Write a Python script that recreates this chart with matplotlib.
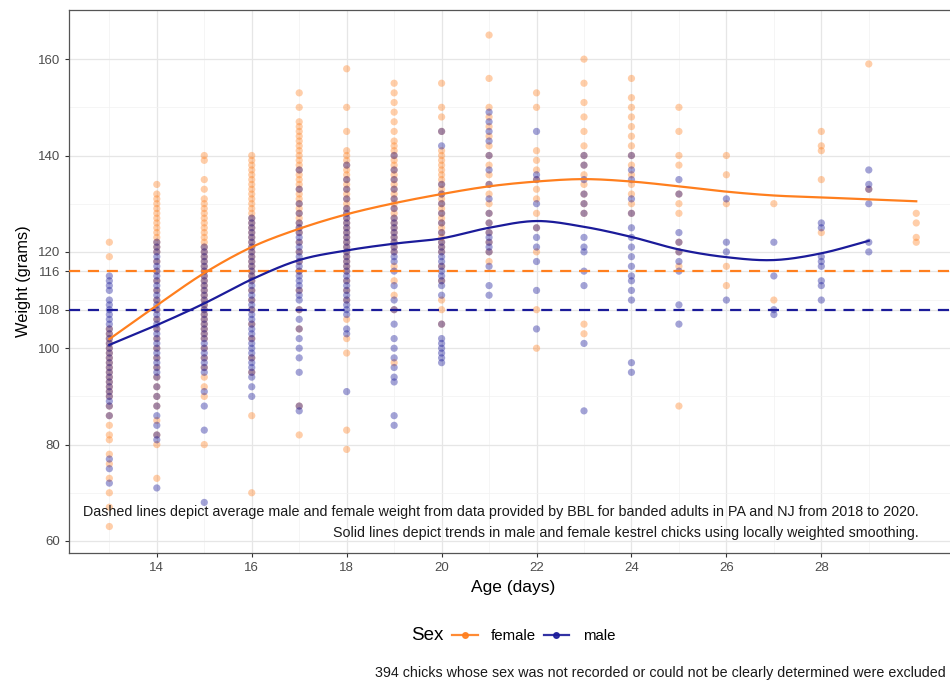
import numpy as np
import matplotlib
matplotlib.use("Agg")
import matplotlib.pyplot as plt
from matplotlib.lines import Line2D

plt.rcParams['font.family'] = ['Liberation Sans', 'DejaVu Sans']

# ---------------- data ----------------
days = list(range(13, 31))

female_weights = {
    13: [122, 119, 104, 103, 102, 101, 100, 99, 98, 97, 96, 95, 94, 93, 92, 91, 90, 88, 86, 84, 82, 81, 78, 76, 73, 70, 67, 63],
    14: [134, 132, 131, 130, 129, 128, 127, 126, 125, 124, 123, 122, 121, 120, 118, 116, 114, 112, 110, 108, 106, 104, 102, 100, 98, 96, 94, 92, 90, 88, 85, 82, 80, 73],
    15: [140, 139, 135, 133, 131, 130, 129, 128, 127, 126, 125, 124, 123, 122, 121, 120, 119, 118, 117, 116, 115, 114, 113, 112, 111, 110, 109, 108, 107, 106, 105, 104, 103, 102, 100, 98, 96, 94, 92, 90, 80],
    16: [140, 139, 138, 137, 136, 135, 134, 133, 132, 131, 130, 129, 128, 127, 126, 125, 124, 123, 122, 121, 120, 119, 118, 117, 116, 115, 114, 112, 110, 108, 105, 102, 98, 95, 86, 70],
    17: [153, 150, 147, 146, 145, 144, 143, 142, 141, 140, 139, 138, 137, 136, 135, 134, 133, 132, 131, 130, 129, 128, 127, 126, 125, 124, 122, 120, 118, 116, 112, 108, 104, 88, 82],
    18: [158, 150, 145, 141, 140, 139, 138, 137, 136, 135, 134, 133, 132, 131, 130, 129, 128, 127, 126, 125, 124, 123, 122, 121, 120, 119, 118, 117, 116, 114, 112, 110, 106, 102, 99, 83, 79],
    19: [155, 153, 151, 149, 147, 145, 143, 142, 141, 140, 139, 138, 137, 136, 135, 134, 133, 132, 131, 130, 129, 128, 127, 126, 125, 124, 123, 122, 121, 120, 117, 114, 111, 108, 97],
    20: [155, 150, 148, 145, 141, 140, 139, 138, 137, 136, 135, 134, 133, 132, 131, 130, 129, 128, 127, 126, 125, 124, 123, 122, 121, 120, 117, 114, 110, 108, 105],
    21: [165, 156, 150, 148, 146, 144, 142, 140, 138, 136, 134, 132, 130, 128, 126, 124, 122, 120, 118],
    22: [153, 150, 141, 139, 137, 135, 133, 131, 128, 125, 120, 108, 100],
    23: [160, 155, 151, 148, 145, 142, 140, 138, 136, 134, 132, 130, 128, 105, 103],
    24: [156, 152, 150, 148, 146, 144, 142, 140, 138, 136, 134, 132, 130, 128],
    25: [150, 145, 140, 138, 132, 130, 128, 122, 120, 117, 88],
    26: [140, 136, 130, 117, 113],
    27: [130, 110],
    28: [145, 142, 141, 135, 124],
    29: [159, 133],
    30: [128, 126, 123, 122],
}

male_weights = {
    13: [115, 114, 113, 112, 110, 109, 108, 107, 106, 105, 104, 103, 102, 101, 100, 99, 98, 97, 96, 95, 94, 93, 92, 91, 90, 89, 88, 86, 77, 75, 72],
    14: [122, 121, 120, 119, 118, 117, 116, 115, 114, 113, 112, 111, 110, 109, 108, 107, 106, 105, 104, 103, 102, 101, 100, 99, 98, 97, 96, 95, 94, 92, 90, 88, 86, 84, 82, 81, 71],
    15: [121, 120, 119, 118, 117, 116, 115, 114, 113, 112, 111, 110, 109, 108, 107, 106, 105, 104, 103, 102, 101, 100, 99, 98, 97, 96, 95, 91, 88, 83, 68],
    16: [127, 126, 125, 124, 123, 122, 121, 120, 119, 118, 117, 116, 115, 114, 113, 112, 111, 110, 109, 108, 107, 106, 105, 104, 103, 102, 101, 100, 99, 98, 97, 96, 95, 94, 92, 90],
    17: [137, 133, 130, 128, 126, 125, 124, 123, 122, 121, 120, 119, 118, 117, 116, 115, 114, 113, 112, 111, 110, 108, 106, 104, 102, 100, 98, 95, 88, 87],
    18: [138, 135, 133, 131, 129, 128, 127, 126, 125, 124, 123, 122, 121, 120, 119, 118, 117, 116, 115, 114, 113, 112, 111, 110, 109, 108, 107, 104, 103, 91],
    19: [140, 137, 135, 133, 131, 129, 127, 126, 125, 124, 123, 122, 121, 120, 119, 118, 116, 113, 110, 108, 105, 102, 100, 98, 96, 94, 93, 86, 84],
    20: [145, 142, 134, 132, 130, 128, 126, 124, 122, 121, 120, 119, 118, 117, 116, 115, 114, 113, 111, 105, 102, 101, 100, 99, 98, 97],
    21: [149, 147, 145, 143, 140, 137, 134, 131, 128, 126, 124, 123, 122, 121, 120, 117, 113, 111],
    22: [145, 136, 135, 130, 125, 123, 121, 118, 112, 104],
    23: [140, 138, 135, 132, 130, 128, 123, 121, 120, 116, 113, 101, 87],
    24: [140, 137, 135, 131, 128, 125, 123, 121, 119, 117, 115, 114, 112, 110, 97, 95],
    25: [135, 132, 124, 122, 120, 118, 116, 109, 105],
    26: [131, 122, 120, 110],
    27: [122, 115, 108, 107],
    28: [126, 125, 119, 118, 117, 114, 113, 110],
    29: [137, 134, 133, 130, 122, 120],
}

# loess trend values read at each day
female_trend_days = list(range(13, 31))
female_trend = [101.9, 108.9, 115.6, 121.0, 124.8, 127.8, 130.1, 132.0, 133.6, 134.6, 135.1, 134.6, 133.6, 132.5, 131.7, 131.3, 130.9, 130.5]
male_trend_days = list(range(13, 30))
male_trend = [100.7, 104.8, 109.3, 114.3, 118.3, 120.3, 121.7, 122.8, 125.0, 126.4, 125.2, 123.1, 120.5, 118.9, 118.3, 119.7, 122.3]

female_adult_mean = 116
male_adult_mean = 108

x_ticks = [14, 16, 18, 20, 22, 24, 26, 28]
y_ticks = [60, 80, 100, 108, 116, 120, 140, 160]

female_color = '#FF7F1E'
male_color = '#1B1B9A'

note1 = "Dashed lines depict average male and female weight from data provided by BBL for banded adults in PA and NJ from 2018 to 2020."
note2 = "Solid lines depict trends in male and female kestrel chicks using locally weighted smoothing."
caption = "394 chicks whose sex was not recorded or could not be clearly determined were excluded"


def catmull_rom(xs, ys, n=20):
    xs = np.asarray(xs, float); ys = np.asarray(ys, float)
    px = np.concatenate([[2*xs[0]-xs[1]], xs, [2*xs[-1]-xs[-2]]])
    py = np.concatenate([[2*ys[0]-ys[1]], ys, [2*ys[-1]-ys[-2]]])
    ox, oy = [], []
    for i in range(1, len(px)-2):
        t = np.linspace(0, 1, n, endpoint=False)
        for arr, out in ((px, ox), (py, oy)):
            p0, p1, p2, p3 = arr[i-1], arr[i], arr[i+1], arr[i+2]
            out.extend(0.5*((2*p1) + (-p0+p2)*t + (2*p0-5*p1+4*p2-p3)*t**2 + (-p0+3*p1-3*p2+p3)*t**3))
    ox.append(xs[-1]); oy.append(ys[-1])
    return np.array(ox), np.array(oy)


fig = plt.figure(figsize=(9.5, 6.83), dpi=100)
ax = fig.add_axes([69/950, 1-553/683, (956.6-69)/950, (553-10)/683])

# grid
for x in x_ticks:
    ax.axvline(x, color='#E6E6E6', lw=0.9, zorder=0)
for x in [13, 15, 17, 19, 21, 23, 25, 27, 29]:
    ax.axvline(x, color='#F2F2F2', lw=0.5, zorder=0)
for y in y_ticks:
    ax.axhline(y, color='#E6E6E6', lw=0.9, zorder=0)
for y in [70, 90, 110, 130, 150]:
    ax.axhline(y, color='#F2F2F2', lw=0.5, zorder=0)

# points
fx = [d for d in female_weights for _ in female_weights[d]]
fy = [w for d in female_weights for w in female_weights[d]]
mx = [d for d in male_weights for _ in male_weights[d]]
my = [w for d in male_weights for w in male_weights[d]]
ax.scatter(fx, fy, s=27, color=female_color, alpha=0.38, edgecolors='none', zorder=2)
ax.scatter(mx, my, s=27, color=male_color, alpha=0.40, edgecolors='none', zorder=2)

# dashed adult means
ax.axhline(female_adult_mean, color=female_color, lw=1.6, ls=(0, (5, 3.5)), zorder=3)
ax.axhline(male_adult_mean, color=male_color, lw=1.6, ls=(0, (5, 3.5)), zorder=3)

# trends
sx, sy = catmull_rom(female_trend_days, female_trend)
ax.plot(sx, sy, color=female_color, lw=1.6, zorder=4)
sx, sy = catmull_rom(male_trend_days, male_trend)
ax.plot(sx, sy, color=male_color, lw=1.6, zorder=4)

ax.text(30.05, 66.0, note1, ha='right', va='center', fontsize=10.3, color='#1a1a1a', zorder=5)
ax.text(30.05, 61.6, note2, ha='right', va='center', fontsize=10.3, color='#1a1a1a', zorder=5)

ax.set_xlim(12.15, 30.85)
ax.set_ylim(57.5, 170.2)
ax.set_xticks(x_ticks)
ax.set_yticks(y_ticks)
ax.tick_params(axis='both', colors='#333333', labelcolor='#4D4D4D', labelsize=9.5, length=3, width=0.8)
for sp in ax.spines.values():
    sp.set_color('#555555')
    sp.set_linewidth(0.9)

ax.set_xlabel('Age (days)', fontsize=12.5, color='black', labelpad=4)
ax.set_ylabel('Weight (grams)', fontsize=11.8, color='black', labelpad=5)

# legend
fig.text(411/950, 1-636/683, 'Sex', fontsize=13.5, va='center', ha='left')
handles = [Line2D([], [], color=female_color, lw=1.6, marker='o', markersize=4, alpha=0.9),
           Line2D([], [], color=male_color, lw=1.6, marker='o', markersize=4, alpha=0.9)]
fig.legend(handles, ['female', 'male'], loc='center left', bbox_to_anchor=(452/950, 1-636/683),
           ncol=2, frameon=False, fontsize=10.8, handlelength=1.7, handletextpad=0.9,
           columnspacing=0.5, borderaxespad=0, borderpad=0)

fig.text(946/950, 1-673/683, caption, fontsize=10.3, ha='right', va='center', color='#1a1a1a')

fig.savefig('out.png', dpi=100)
